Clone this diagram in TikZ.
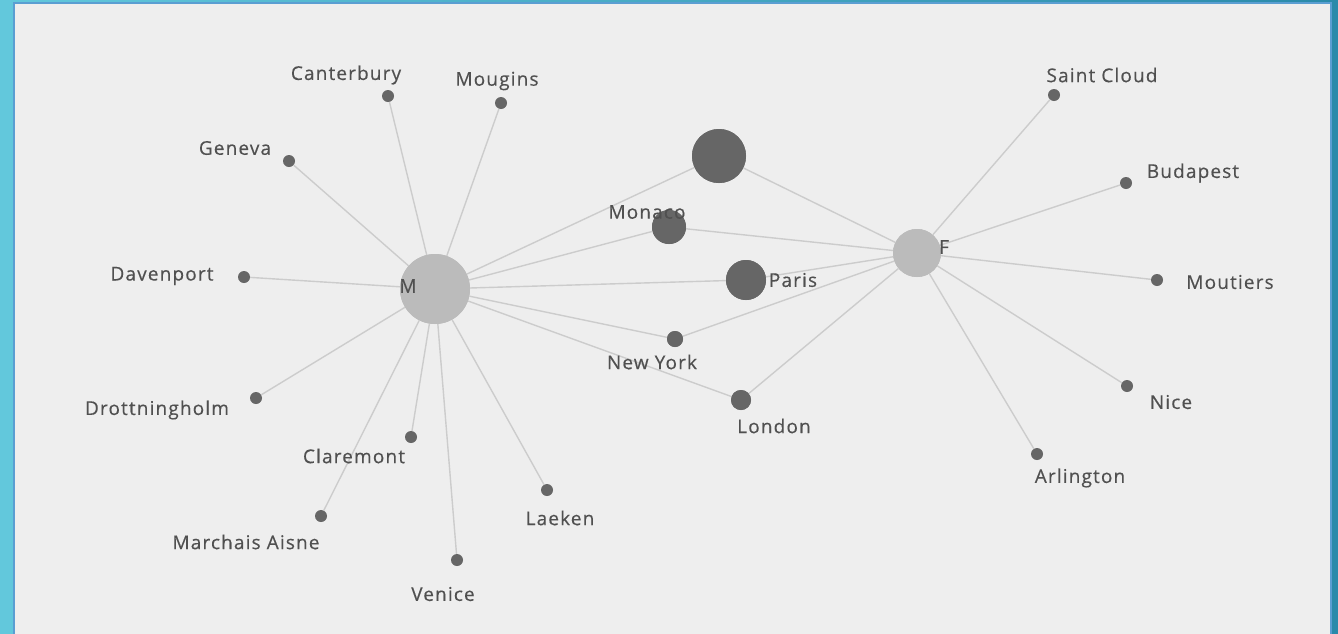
\documentclass[tikz,border=0pt]{standalone}
\usepackage{fontspec}
\setmainfont{Open Sans}[LetterSpace=6,FakeBold=0.4]
\usetikzlibrary{shadings}
\definecolor{bgL}{HTML}{62C8DC}
\definecolor{bgR}{HTML}{2A8AAA}
\definecolor{panel}{HTML}{EEEEEE}
\definecolor{frame}{HTML}{5A9ED2}
\definecolor{edgec}{HTML}{CCCCCC}
\definecolor{dark}{HTML}{666666}
\definecolor{hub}{HTML}{BBBBBB}
\definecolor{txt}{HTML}{505050}
\tikzset{
  leaf/.style={circle,fill=dark,inner sep=0pt,minimum size=12pt},
  mid/.style={circle,fill=dark,inner sep=0pt},
  hubnode/.style={circle,fill=hub,inner sep=0pt},
  lbl/.style={text=txt,font=\fontsize{19}{21}\selectfont,inner sep=0pt},
  con/.style={draw=edgec,line width=1.4pt}
}
\begin{document}
\begin{tikzpicture}[x=1pt,y=-1pt]
\useasboundingbox (0,0) rectangle (1338,633);
\shade[left color=bgL,right color=bgR] (0,0) rectangle (1338,633);
\draw[frame,fill=panel,line width=2pt] (14,3) rectangle (1331,645);
% hubs
\node[hubnode,minimum size=70pt] (M) at (435,289) {};
\node[hubnode,minimum size=48pt] (F) at (917,253) {};
% middle nodes
\node[mid,minimum size=54pt] (big) at (719,156) {};
\node[mid,minimum size=34pt] (monaco) at (669,227) {};
\node[mid,minimum size=40pt] (paris) at (746,280) {};
\node[mid,minimum size=16pt] (newyork) at (675,339) {};
\node[mid,minimum size=20pt] (london) at (741,400) {};
% left leaves
\node[leaf] (canterbury) at (388,96) {};
\node[leaf] (mougins) at (501,103) {};
\node[leaf] (geneva) at (289,161) {};
\node[leaf] (davenport) at (244,277) {};
\node[leaf] (drott) at (256,398) {};
\node[leaf] (claremont) at (411,437) {};
\node[leaf] (marchais) at (321,516) {};
\node[leaf] (venice) at (457,560) {};
\node[leaf] (laeken) at (547,490) {};
% right leaves
\node[leaf] (saintcloud) at (1054,95) {};
\node[leaf] (budapest) at (1126,183) {};
\node[leaf] (moutiers) at (1157,280) {};
\node[leaf] (nice) at (1127,386) {};
\node[leaf] (arlington) at (1037,454) {};
% edges
\foreach \n in {canterbury,mougins,geneva,davenport,drott,claremont,marchais,venice,laeken,big,monaco,paris,newyork,london}
  \draw[con] (M) -- (\n);
\foreach \n in {saintcloud,budapest,moutiers,nice,arlington,big,monaco,paris,newyork,london}
  \draw[con] (F) -- (\n);
% redraw nodes on top
\node[hubnode,minimum size=70pt] at (M) {};
\node[hubnode,minimum size=48pt] at (F) {};
\node[mid,minimum size=54pt] at (big) {};
\node[mid,minimum size=34pt] at (monaco) {};
\node[mid,minimum size=40pt] at (paris) {};
\node[mid,minimum size=16pt] at (newyork) {};
\node[mid,minimum size=20pt] at (london) {};
% labels
\node[lbl] (lM) at (408,286) {M};
\node[lbl] (lF) at (944,247) {F};
\node[lbl] (lcant) at (346,75) {Canterbury};
\node[lbl] (lmoug) at (497,81) {Mougins};
\node[lbl] (lgen) at (235,148) {Geneva};
\node[lbl] (ldav) at (162,276) {Davenport};
\node[lbl] (ldro) at (157,410) {Drottningholm};
\node[lbl] (lcla) at (354,456) {Claremont};
\node[lbl] (lmar) at (246,542) {Marchais Aisne};
\node[lbl] (lven) at (443,594) {Venice};
\node[lbl] (llae) at (560,518) {Laeken};
\node[lbl] (lmon) at (647,212) {Monaco};
\node[lbl] (lpar) at (793,280) {Paris};
\node[lbl] (lny) at (652,362) {New York};
\node[lbl] (llon) at (774,426) {London};
\node[lbl] (lsc) at (1102,75) {Saint Cloud};
\node[lbl] (lbud) at (1193,173) {Budapest};
\node[lbl] (lmou) at (1230,282) {Moutiers};
\node[lbl] (lnic) at (1171,402) {Nice};
\node[lbl] (larl) at (1080,478) {Arlington};
\end{tikzpicture}
\end{document}
